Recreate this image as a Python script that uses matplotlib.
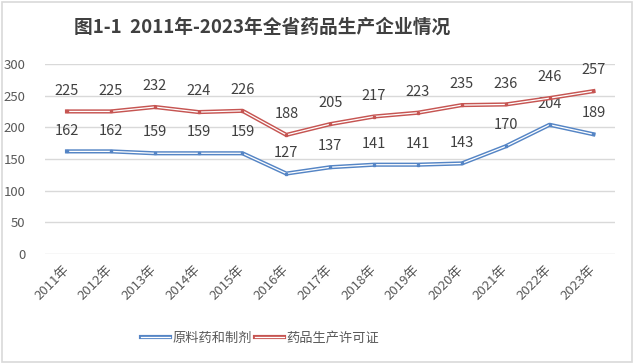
import matplotlib.pyplot as plt
import matplotlib.patheffects as pe
from matplotlib.lines import Line2D
from matplotlib.patches import Rectangle

plt.rcParams['font.family'] = ['Noto Sans CJK SC', 'DejaVu Sans']

years = ['2011年', '2012年', '2013年', '2014年', '2015年', '2016年', '2017年',
         '2018年', '2019年', '2020年', '2021年', '2022年', '2023年']
api_prep = [162, 162, 159, 159, 159, 127, 137, 141, 141, 143, 170, 204, 189]
licences = [225, 225, 232, 224, 226, 188, 205, 217, 223, 235, 236, 246, 257]
series_names = ['原料药和制剂', '药品生产许可证']
colors = ['#5585C5', '#C65552']

fig = plt.figure(figsize=(6.35, 3.63), dpi=100)
ax = fig.add_axes([0.071, 0.300, 0.898, 0.524])

# light border round the whole chart
fig.patches.append(Rectangle((0.003, 0.004), 0.992, 0.99, transform=fig.transFigure,
                             fill=False, edgecolor='#D9D9D9', lw=1.2))

x = list(range(len(years)))
handles = []
for values, name, color in zip([api_prep, licences], series_names, colors):
    # double line: coloured outer stroke, white core
    effects = [pe.Stroke(linewidth=3.0, foreground=color), pe.Normal()]
    ax.plot(x, values, color='white', lw=0.9, zorder=3, path_effects=effects)
    ax.plot(x, values, 's', ms=1.8, color=color, zorder=4)
    for xi, v in zip(x, values):
        ax.annotate(str(v), (xi, v), xytext=(0, 15), textcoords='offset points',
                    ha='center', va='center', fontsize=10.5, color='#404040')
    handles.append(Line2D([], [], color='white', lw=0.9, path_effects=effects, label=name))

ax.set_xlim(-0.5, len(years) - 0.5)
ax.set_ylim(0, 300)
ax.set_yticks(range(0, 301, 50))
ax.grid(axis='y', color='#D9D9D9', lw=1)
ax.set_axisbelow(True)
for s in ax.spines.values():
    s.set_visible(False)
ax.tick_params(axis='both', length=0, colors='#595959', labelsize=9.5)
ax.tick_params(axis='y', pad=14)
ax.set_xticks(x)
ax.set_xticklabels(years, rotation=45, ha='right', rotation_mode='anchor', va='center')
ax.tick_params(axis='x', pad=10)

fig.text(0.413, 0.925, '图1-1  2011年-2023年全省药品生产企业情况', ha='center', va='center',
         fontsize=13.5, fontweight='bold', color='#404040')

fig.legend(handles=handles, loc='center', bbox_to_anchor=(0.41, 0.068), ncol=2,
           frameon=False, fontsize=9.5, handlelength=2.2, handletextpad=0.2,
           columnspacing=0.2, labelcolor='#595959')

plt.savefig('out.png', dpi=100)
plt.close('all')
